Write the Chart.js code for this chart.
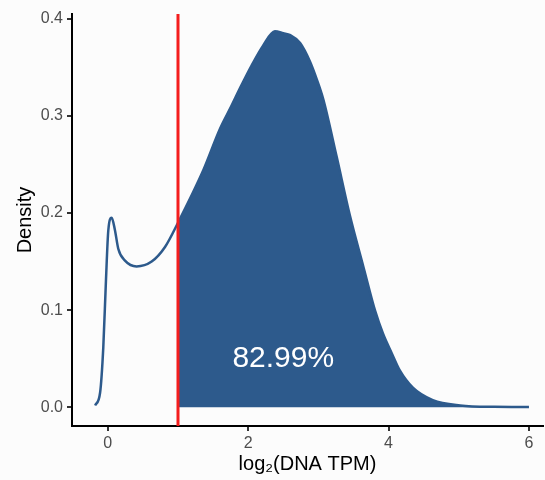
<!DOCTYPE html>
<html>
<head>
<meta charset="utf-8">
<script src="https://cdn.jsdelivr.net/npm/chart.js@4"></script>
<style>
  html, body { margin: 0; padding: 0; background: #fcfcfc; }
  #wrap { width: 545px; height: 480px; }
</style>
</head>
<body>
<div id="wrap"><canvas id="chart" width="545" height="480"></canvas></div>
<script>
// density curve
const densityX = [-0.18, -0.11, -0.064, -0.026, 0.007, 0.055, 0.10, 0.15, 0.245, 0.41, 0.625, 0.815,
  1.0, 1.36, 1.6, 1.76, 1.88, 2.05, 2.21, 2.38, 2.5, 2.6, 2.74, 2.88, 2.98, 3.07, 3.26, 3.45,
  3.64, 3.81, 3.92, 4.05, 4.16, 4.35, 4.63, 5.02, 5.5, 6.0];
const densityY = [0.002, 0.015, 0.062, 0.131, 0.182, 0.195, 0.183, 0.163, 0.151, 0.145, 0.150, 0.165,
  0.190, 0.244, 0.287, 0.310, 0.328, 0.352, 0.372, 0.387, 0.385, 0.383, 0.375, 0.356, 0.337, 0.317, 0.258, 0.197,
  0.145, 0.099, 0.076, 0.055, 0.038, 0.020, 0.0075, 0.002, 0.0005, 0.0003];

const threshold = 1;
const shareLabel = '82.99%';
const labelPos = [2.5, 0.05];

const xTicks = [0, 2, 4, 6];
const yTicks = [0, 0.1, 0.2, 0.3, 0.4];

const blue = '#2d5a8c';
const font = "'Liberation Sans', Arial, sans-serif";

const curve = densityX.map((x, i) => ({ x: x, y: densityY[i] }));
const shaded = curve.filter(p => p.x >= threshold);

// background + red cutoff + percentage text
const extras = {
  id: 'extras',
  beforeDraw(chart) {
    const c = chart.ctx;
    c.save();
    c.fillStyle = '#fcfcfc';
    c.fillRect(0, 0, chart.width, chart.height);
    c.restore();
  },
  afterDatasetsDraw(chart) {
    const c = chart.ctx, xs = chart.scales.x, ys = chart.scales.y, a = chart.chartArea;
    c.save();
    const px = xs.getPixelForValue(threshold);
    c.strokeStyle = '#f41d1d';
    c.lineWidth = 3;
    c.beginPath();
    c.moveTo(px, a.top);
    c.lineTo(px, a.bottom);
    c.stroke();

    c.fillStyle = '#ffffff';
    c.font = '30px ' + font;
    c.textAlign = 'center';
    c.textBaseline = 'middle';
    c.fillText(shareLabel, xs.getPixelForValue(labelPos[0]), ys.getPixelForValue(labelPos[1]));
    c.restore();
  }
};

new Chart(document.getElementById('chart'), {
  type: 'line',
  data: {
    datasets: [
      {
        data: curve,
        borderColor: blue,
        borderWidth: 2.5,
        pointRadius: 0,
        fill: false,
        cubicInterpolationMode: 'monotone'
      },
      {
        data: shaded,
        borderColor: blue,
        borderWidth: 0,
        backgroundColor: blue,
        pointRadius: 0,
        fill: 'origin',
        cubicInterpolationMode: 'monotone'
      }
    ]
  },
  options: {
    responsive: false,
    animation: false,
    events: [],
    layout: { padding: { top: 14, right: 2, left: 0, bottom: 0 } },
    plugins: { legend: { display: false }, tooltip: { enabled: false } },
    scales: {
      x: {
        type: 'linear',
        min: -0.51,
        max: 6.2,
        afterBuildTicks: s => { s.ticks = xTicks.map(v => ({ value: v })); },
        afterFit: s => { s.height = 54; },
        border: { display: true, color: '#000', width: 2 },
        grid: { drawOnChartArea: false, drawTicks: true, tickLength: 5, color: '#333', lineWidth: 2 },
        ticks: { color: '#4d4d4d', font: { family: font, size: 16 }, padding: 3, maxRotation: 0,
          callback: v => String(v) },
        title: { display: true, text: 'log\u2082(DNA TPM)', color: '#000',
          font: { family: font, size: 20 }, padding: { top: 0, bottom: 4 } }
      },
      y: {
        type: 'linear',
        min: -0.0192,
        max: 0.4048,
        afterBuildTicks: s => { s.ticks = yTicks.map(v => ({ value: v })); },
        afterFit: s => { s.width = 72; },
        border: { display: true, color: '#000', width: 2 },
        grid: { drawOnChartArea: false, drawTicks: true, tickLength: 5, color: '#333', lineWidth: 2 },
        ticks: { color: '#4d4d4d', font: { family: font, size: 16 }, padding: 4,
          callback: v => v.toFixed(1) },
        title: { display: true, text: 'Density', color: '#000',
          font: { family: font, size: 20 }, padding: { top: 13, bottom: 0 } }
      }
    }
  },
  plugins: [extras]
});
</script>
</body>
</html>
